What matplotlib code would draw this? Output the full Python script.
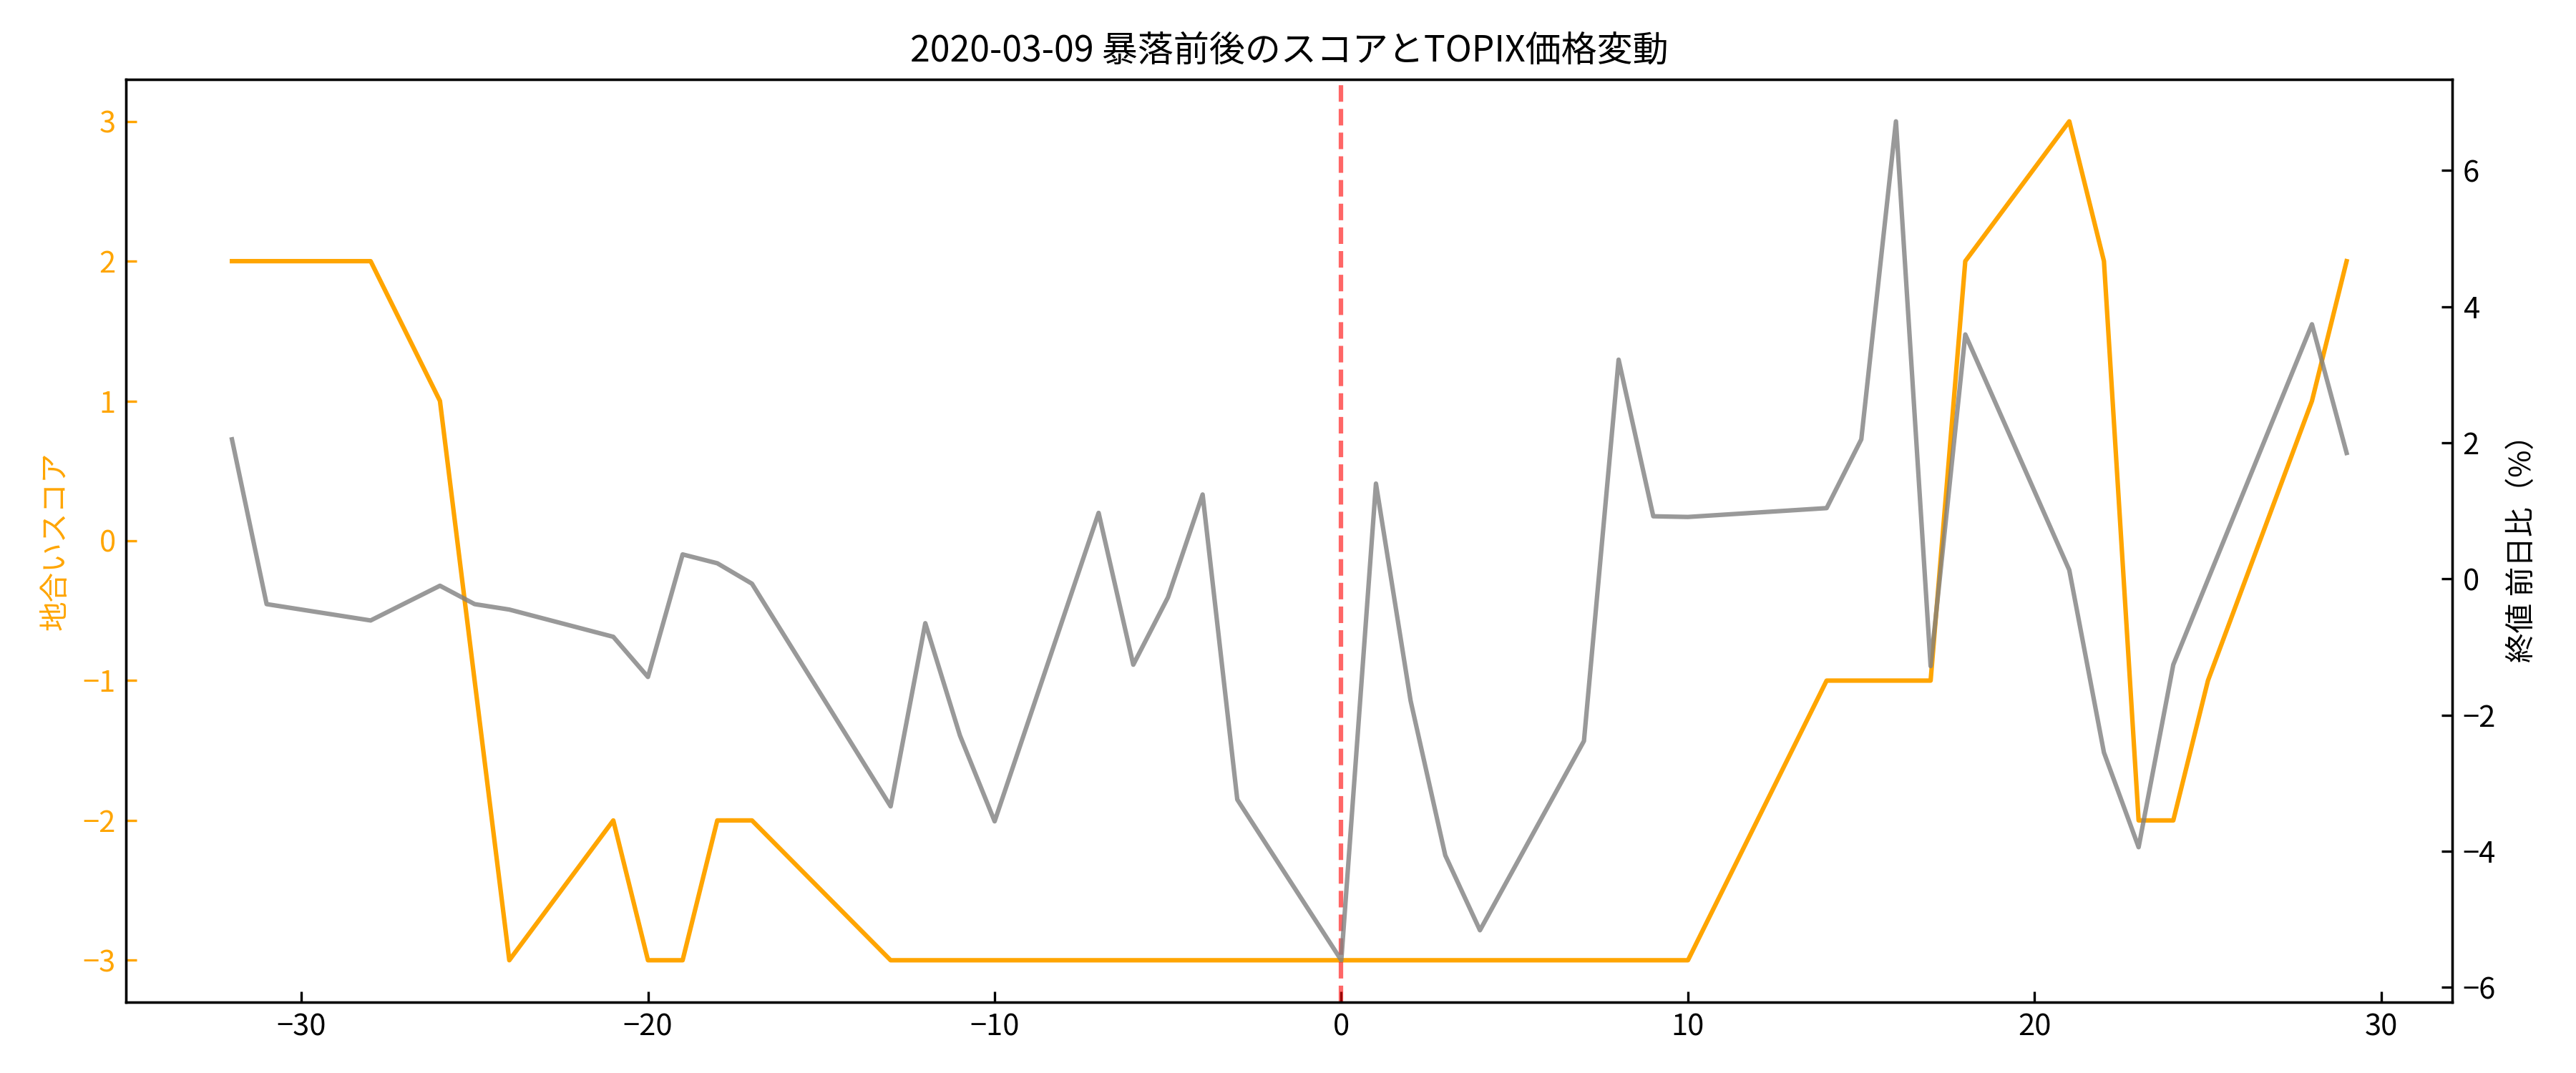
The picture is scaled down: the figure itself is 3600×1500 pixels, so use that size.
import matplotlib
matplotlib.use("Agg")
import matplotlib.pyplot as plt

plt.rcParams['font.family'] = ['Noto Sans CJK JP', 'DejaVu Sans']

# 地合いスコア (left axis)
score_days = [-32, -28, -26, -24, -21, -20, -19, -18, -17, -13, 0, 10, 14, 17, 18, 21, 22, 23, 24, 25, 28, 29]
score_vals = [2, 2, 1, -3, -2, -3, -3, -2, -2, -3, -3, -3, -1, -1, 2, 3, 2, -2, -2, -1, 1, 2]

# TOPIX 終値 前日比 (%) (right axis)
topix_days = [-32, -31, -28, -26, -25, -24, -21, -20, -19, -18, -17, -13, -12, -11, -10,
              -7, -6, -5, -4, -3, 0, 1, 2, 3, 4, 7, 8, 9, 10, 14, 15, 16, 17, 18,
              21, 22, 23, 24, 28, 29]
topix_vals = [2.05, -0.37, -0.61, -0.10, -0.37, -0.45, -0.85, -1.44, 0.36, 0.23, -0.07, -3.34, -0.65, -2.30, -3.56,
              0.97, -1.26, -0.27, 1.24, -3.24, -5.60, 1.40, -1.79, -4.06, -5.16, -2.38, 3.22, 0.92, 0.91, 1.04, 2.05, 6.72, -1.28, 3.59,
              0.13, -2.55, -3.94, -1.26, 3.74, 1.85]

fig = plt.figure(figsize=(12, 5), dpi=300)
ax = fig.add_axes([0.049, 0.066, 0.903, 0.860])
ax.plot(score_days, score_vals, color='orange', lw=1.5)
ax.axvline(0, color='red', ls='--', alpha=0.6, lw=1.5)
ax.set_ylabel('地合いスコア', color='orange')
ax.tick_params(axis='y', colors='orange', direction='in')
ax.tick_params(axis='x', direction='in')

ax2 = ax.twinx()
ax2.plot(topix_days, topix_vals, color='gray', alpha=0.8, lw=1.5)
ax2.set_ylabel('終値 前日比（%）')
ax2.tick_params(direction='in')

ax.set_title('2020-03-09 暴落前後のスコアとTOPIX価格変動')
fig.savefig('out.png')
